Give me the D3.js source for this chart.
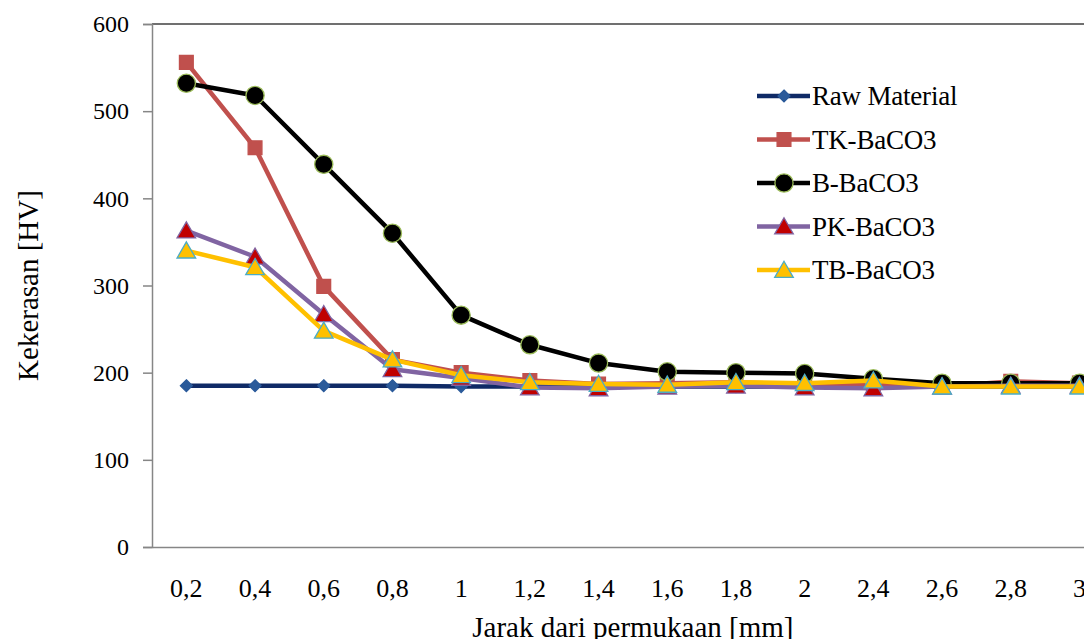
<!DOCTYPE html>
<html>
<head>
<meta charset="utf-8">
<script src="https://cdn.jsdelivr.net/npm/d3@7"></script>
<style>
  body { margin: 0; background: #fff; }
  svg { display: block; overflow: hidden; }
  text { font-family: "Liberation Serif", "Times New Roman", serif; fill: #000; }
</style>
</head>
<body>
<div id="chart"></div>
<script>
// categories (jarak dari permukaan, mm)
var categories = ['0,2', '0,4', '0,6', '0,8', '1', '1,2', '1,4', '1,6', '1,8', '2', '2,4', '2,6', '2,8', '3'];
var yTicks = [0, 100, 200, 300, 400, 500, 600];

// hardness values (HV)
var rawMaterial = [185, 185, 185, 185, 184, 184, 184, 184, 184, 184, 184, 184, 184, 184];
var tkBaco3 = [556, 458, 299, 215, 200, 191, 187, 188, 189, 186, 187, 184, 190, 188];
var bBaco3 = [532, 518, 439, 360, 266, 232, 211, 201, 200, 199, 193, 188, 188, 188];
var pkBaco3 = [363, 333, 267, 204, 194, 183, 182, 184, 185, 183, 182, 184, 185, 185];
var tbBaco3 = [340, 321, 248, 215, 197, 189, 187, 186, 189, 188, 191, 184, 184, 184];

var seriesNames = ['Raw Material', 'TK-BaCO3', 'B-BaCO3', 'PK-BaCO3', 'TB-BaCO3'];

var series = [
  { name: seriesNames[0], values: rawMaterial, line: '#0F2A66', marker: 'diamond', fill: '#2A5A9A', stroke: '#2A5A9A' },
  { name: seriesNames[1], values: tkBaco3, line: '#C0504D', marker: 'square', fill: '#C0504D', stroke: '#C0504D' },
  { name: seriesNames[2], values: bBaco3, line: '#000000', marker: 'circle', fill: '#000000', stroke: '#9BBB59' },
  { name: seriesNames[3], values: pkBaco3, line: '#8064A2', marker: 'triangle', fill: '#C00000', stroke: '#8064A2' },
  { name: seriesNames[4], values: tbBaco3, line: '#FFC000', marker: 'triangle', fill: '#FFC000', stroke: '#4BACC6' }
];

var chartW = 1084,
    chartH = 639,
    plotLeft = 152,
    plotTop = 24,
    plotBottom = 547,
    step = 68.7;

var svg = d3.select('#chart')
  .append('svg')
  .attr('width', chartW)
  .attr('height', chartH);

var x = d3.scaleBand()
  .domain(categories)
  .range([plotLeft, plotLeft + step * categories.length]);

var y = d3.scaleLinear()
  .domain([0, 600])
  .range([plotBottom, plotTop]);

function cx(d, i) {
  return x(categories[i]) + x.bandwidth() / 2;
}

// plot frame (top border)
svg.append('line')
  .attr('x1', plotLeft).attr('x2', chartW)
  .attr('y1', plotTop).attr('y2', plotTop)
  .attr('stroke', '#404040')
  .attr('stroke-width', 1.5);

// y axis
var yAxis = svg.append('g')
  .attr('transform', 'translate(' + plotLeft + ',0)')
  .call(d3.axisLeft(y).tickValues(yTicks).tickSize(9).tickPadding(14))
  .attr('font-family', '"Liberation Serif", serif')
  .attr('font-size', 24);
yAxis.select('.domain').attr('stroke', '#868686').attr('stroke-width', 1.5);
yAxis.selectAll('.tick line').attr('stroke', '#868686').attr('stroke-width', 1.5);
yAxis.selectAll('.tick text').attr('fill', '#000');

// x axis
var xAxis = svg.append('g')
  .attr('transform', 'translate(0,' + plotBottom + ')')
  .call(d3.axisBottom(x).tickSize(0).tickPadding(32))
  .attr('font-family', '"Liberation Serif", serif')
  .attr('font-size', 26);
xAxis.select('.domain').attr('stroke', '#868686').attr('stroke-width', 1.5);
xAxis.selectAll('.tick text').attr('fill', '#000');

// axis titles
svg.append('text')
  .attr('transform', 'translate(38,' + ((plotTop + plotBottom) / 2) + ') rotate(-90)')
  .attr('text-anchor', 'middle')
  .style('font-size', '29px')
  .text('Kekerasan [HV]');

svg.append('text')
  .attr('x', plotLeft + step * categories.length / 2)
  .attr('y', 637)
  .attr('text-anchor', 'middle')
  .style('font-size', '29px')
  .text('Jarak dari permukaan [mm]');

var line = d3.line()
  .x(cx)
  .y(function(d) { return y(d); });

var symbols = {
  diamond: d3.symbol().type(d3.symbolDiamond2).size(90),
  square: d3.symbol().type(d3.symbolSquare).size(190),
  circle: d3.symbol().type(d3.symbolCircle).size(260),
  triangle: d3.symbol().type(d3.symbolTriangle).size(150)
};

var groups = svg.selectAll('g.series')
  .data(series)
  .enter()
  .append('g')
  .attr('class', 'series');

groups.append('path')
  .attr('d', function(s) { return line(s.values); })
  .attr('fill', 'none')
  .attr('stroke', function(s) { return s.line; })
  .attr('stroke-width', 4.5)
  .attr('stroke-linejoin', 'round');

groups.each(function(s) {
  d3.select(this).selectAll('path.mark')
    .data(s.values)
    .enter()
    .append('path')
    .attr('class', 'mark')
    .attr('d', symbols[s.marker]())
    .attr('transform', function(d, i) {
      var dy = s.marker === 'triangle' ? 2 : 0;
      return 'translate(' + cx(d, i) + ',' + (y(d) + dy) + ')';
    })
    .attr('fill', s.fill)
    .attr('stroke', s.stroke)
    .attr('stroke-width', 1.3);
});

// legend
var legend = svg.selectAll('g.legend')
  .data(series)
  .enter()
  .append('g')
  .attr('class', 'legend')
  .attr('transform', function(s, i) { return 'translate(757,' + (96 + i * 43.5) + ')'; });

legend.append('line')
  .attr('x1', 0).attr('x2', 53)
  .attr('stroke', function(s) { return s.line; })
  .attr('stroke-width', 4.5);

legend.append('path')
  .attr('d', function(s) { return symbols[s.marker](); })
  .attr('transform', function(s) { return 'translate(27,' + (s.marker === 'triangle' ? 2 : 0) + ')'; })
  .attr('fill', function(s) { return s.fill; })
  .attr('stroke', function(s) { return s.stroke; })
  .attr('stroke-width', 1.3);

legend.append('text')
  .attr('x', 55)
  .attr('y', 9)
  .style('font-size', '27px')
  .style('letter-spacing', '-0.2px')
  .text(function(s) { return s.name; });
</script>
</body>
</html>
